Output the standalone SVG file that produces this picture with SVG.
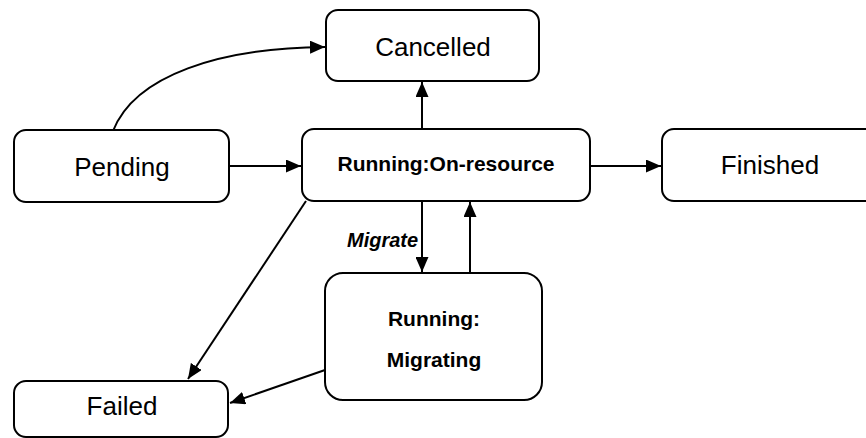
<svg xmlns="http://www.w3.org/2000/svg" width="866" height="438" viewBox="0 0 866 438">
<style>
.n rect{fill:#fff;stroke:#000;stroke-width:2}
.t{font-family:"Liberation Sans",Arial,sans-serif;font-size:26px;text-anchor:middle;fill:#000}
.b{font-family:"Liberation Sans",Arial,sans-serif;font-size:21px;font-weight:bold;text-anchor:middle;fill:#000}
.e path{fill:none;stroke:#000;stroke-width:2;marker-end:url(#a)}
</style>
<defs>
<marker id="a" viewBox="0 0 15 13" refX="15" refY="6.5" markerWidth="15" markerHeight="13" markerUnits="userSpaceOnUse" orient="auto">
<path d="M0,0 L15,6.5 L0,13 Z" fill="#000"/>
</marker>
</defs>
<rect width="866" height="438" fill="#fff"/>
<g class="e" id="connectors">
<path d="M113,131 C135,75 220,48 325,47"/>
<path d="M229,166 L301,166"/>
<path d="M422,129 L422,82"/>
<path d="M590,166 L661,166"/>
<path d="M422,201 L422,272"/>
<path d="M470,273 L470,202"/>
<path d="M306,201 L188,379"/>
<path d="M325,370 L230,403"/>
</g>
<g class="n" id="cancelled"><rect x="326" y="10" width="213" height="71" rx="12"/><text class="t" x="433" y="56">Cancelled</text></g>
<g class="n" id="pending"><rect x="14" y="130" width="215" height="72" rx="12"/><text class="t" x="122" y="176">Pending</text></g>
<g class="n" id="running"><rect x="302" y="129" width="288" height="72" rx="12"/><text class="b" x="446" y="171">Running:On-resource</text></g>
<g class="n" id="finished"><rect x="662" y="129" width="216" height="72" rx="12"/><text class="t" x="770" y="174">Finished</text></g>
<g class="n" id="migrating"><rect x="325" y="273" width="217" height="127" rx="18"/><text class="b" x="434" y="326">Running:</text><text class="b" x="434" y="367">Migrating</text></g>
<g class="n" id="failed"><rect x="14" y="381" width="214" height="56" rx="12"/><text class="t" x="122" y="415">Failed</text></g>
<text x="347" y="247" font-family="Liberation Sans, Arial, sans-serif" font-size="20" font-weight="bold" font-style="italic">Migrate</text>
</svg>
